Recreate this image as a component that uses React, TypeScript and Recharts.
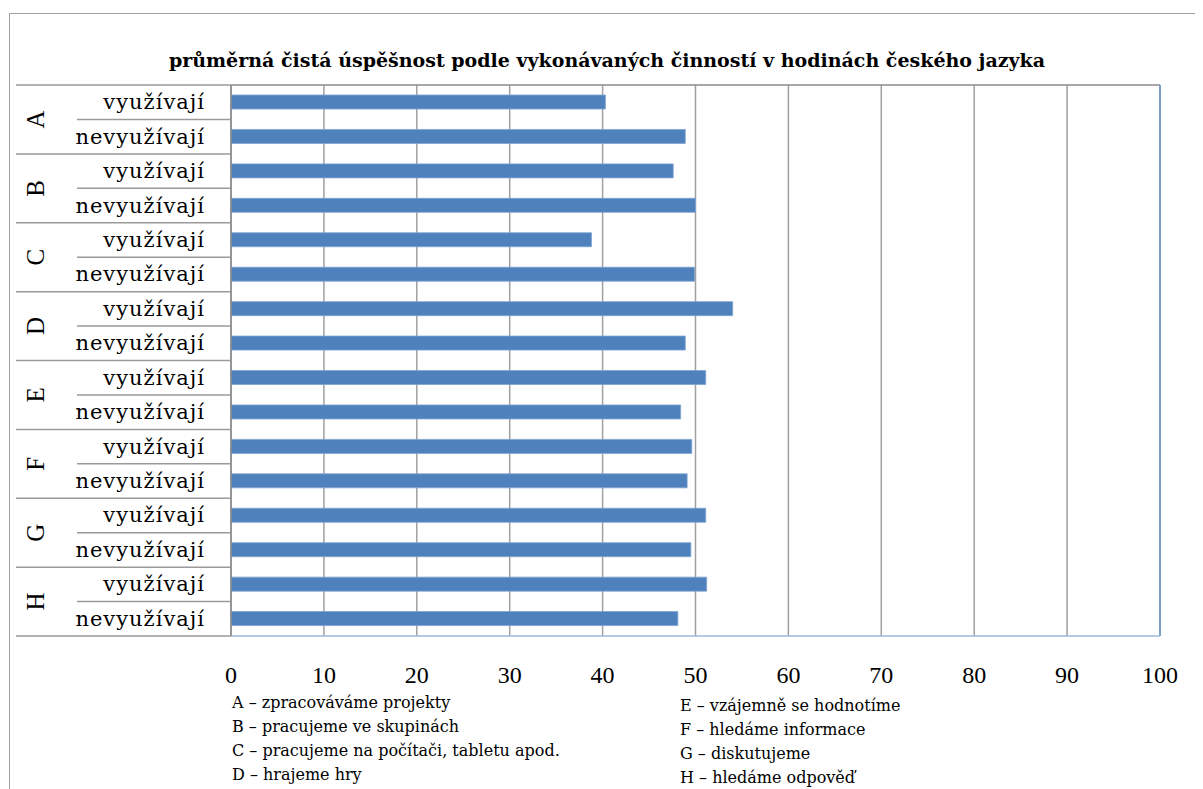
import { BarChart, Bar, XAxis, YAxis, CartesianGrid, ReferenceLine } from 'recharts';

const groups = ['A', 'B', 'C', 'D', 'E', 'F', 'G', 'H'];
const subLabels = ['využívají', 'nevyužívají'];
const usingValues = [40.3, 47.6, 38.8, 54.0, 51.1, 49.6, 51.1, 51.2];
const notUsingValues = [48.9, 50.0, 49.9, 48.9, 48.4, 49.1, 49.5, 48.1];
const xTicks = [0, 10, 20, 30, 40, 50, 60, 70, 80, 90, 100];

const title = 'průměrná čistá úspěšnost podle vykonávaných činností v hodinách českého jazyka';
const legendLeft = [
  'A – zpracováváme projekty',
  'B – pracujeme ve skupinách',
  'C – pracujeme na počítači, tabletu apod.',
  'D – hrajeme hry',
];
const legendRight = [
  'E – vzájemně se hodnotíme',
  'F – hledáme informace',
  'G – diskutujeme',
  'H – hledáme odpověď',
];

const data = groups.flatMap((g, i) => [
  { key: `${g}-0`, group: g, sub: subLabels[0], value: usingValues[i] },
  { key: `${g}-1`, group: g, sub: subLabels[1], value: notUsingValues[i] },
]);

const FONT = '"DejaVu Serif", "Liberation Serif", serif';
const FONT_NUM = '"Liberation Serif", "DejaVu Serif", serif';
const CHART_W = 1195;
const CHART_H = 680;
const MARGIN = { top: 69, right: 43, bottom: 12, left: 0 };
const PLOT_TOP = 77;
const PLOT_BOTTOM = CHART_H - MARGIN.bottom - 40;
const PLOT_LEFT = 223;
const BAND = (PLOT_BOTTOM - PLOT_TOP) / data.length;
const LINE = '#9a9a9a';

const CategoryTick = (props: any) => {
  const { y, payload } = props;
  const [group, idx] = String(payload.value).split('-');
  const row = data.find((d) => d.key === payload.value);
  const isFirst = idx === '0';
  const gy = y + BAND / 2;
  return (
    <g>
      <text
        x={197}
        y={y}
        textAnchor="end"
        dominantBaseline="central"
        fontFamily={FONT}
        fontSize={21}
        letterSpacing={1}
        fill="#000"
      >
        {row?.sub}
      </text>
      {isFirst && group === groups[0] && (
        <line x1={8} x2={PLOT_LEFT} y1={y - BAND / 2} y2={y - BAND / 2} stroke={LINE} strokeWidth={1.5} />
      )}
      <line x1={isFirst ? 69 : 8} x2={PLOT_LEFT} y1={gy} y2={gy} stroke={LINE} strokeWidth={1.5} />
      {isFirst && (
        <text
          x={27}
          y={gy}
          textAnchor="middle"
          dominantBaseline="central"
          fontFamily={FONT_NUM}
          fontSize={25}
          fill="#000"
          transform={`rotate(-90 27 ${gy})`}
        >
          {group}
        </text>
      )}
    </g>
  );
};

const App = () => {
  return (
    <div style={{ position: 'relative', width: CHART_W, height: 781, background: '#fff' }}>
      <style>{'html, body { overflow: hidden; }'}</style>
      <div
        style={{
          position: 'absolute',
          left: 1,
          top: 5,
          width: 1300,
          height: 900,
          border: '1px solid #a0a0a0',
        }}
      />
      <div
        style={{
          position: 'absolute',
          left: 0,
          top: 40,
          width: 1198,
          textAlign: 'center',
          fontFamily: FONT,
          fontWeight: 'bold',
          fontSize: 19,
          lineHeight: '24px',
          whiteSpace: 'nowrap',
        }}
      >
        {title}
      </div>
      <div style={{ position: 'absolute', left: 0, top: 0 }}>
        <BarChart width={CHART_W} height={CHART_H} data={data} layout="vertical" margin={MARGIN}>
          <CartesianGrid horizontal={false} stroke="#a0a0a0" strokeWidth={1.5} />
          <XAxis
            xAxisId="top"
            orientation="top"
            type="number"
            domain={[0, 100]}
            ticks={xTicks}
            height={8}
            tickSize={8}
            tick={false}
            axisLine={{ stroke: '#8a8a8a', strokeWidth: 1.5 }}
            tickLine={{ stroke: '#a0a0a0', strokeWidth: 1.5 }}
          />
          <XAxis
            type="number"
            domain={[0, 100]}
            ticks={xTicks}
            height={40}
            tickSize={0}
            tickMargin={30}
            axisLine={{ stroke: '#9db9dd', strokeWidth: 1.5 }}
            tickLine={false}
            tick={{ fontFamily: FONT_NUM, fontSize: 24, fill: '#000' }}
          />
          <YAxis
            type="category"
            dataKey="key"
            width={PLOT_LEFT}
            axisLine={{ stroke: '#8a8a8a', strokeWidth: 1.5 }}
            tickLine={false}
            tick={<CategoryTick />}
            interval={0}
          />
          <ReferenceLine x={100} stroke="#6f96c9" strokeWidth={1.5} />
          <Bar dataKey="value" fill="#4f81bd" stroke="#7ea3d0" strokeWidth={0.8} barSize={14} isAnimationActive={false} />
        </BarChart>
      </div>
      <div style={{ position: 'absolute', left: 224, top: 683, fontFamily: FONT, fontSize: 16, lineHeight: '24px' }}>
        {legendLeft.map((t) => (
          <div key={t} style={{ whiteSpace: 'nowrap' }}>{t}</div>
        ))}
      </div>
      <div style={{ position: 'absolute', left: 672, top: 686, fontFamily: FONT, fontSize: 16, lineHeight: '24px' }}>
        {legendRight.map((t) => (
          <div key={t} style={{ whiteSpace: 'nowrap' }}>{t}</div>
        ))}
      </div>
    </div>
  );
};

export default App;
